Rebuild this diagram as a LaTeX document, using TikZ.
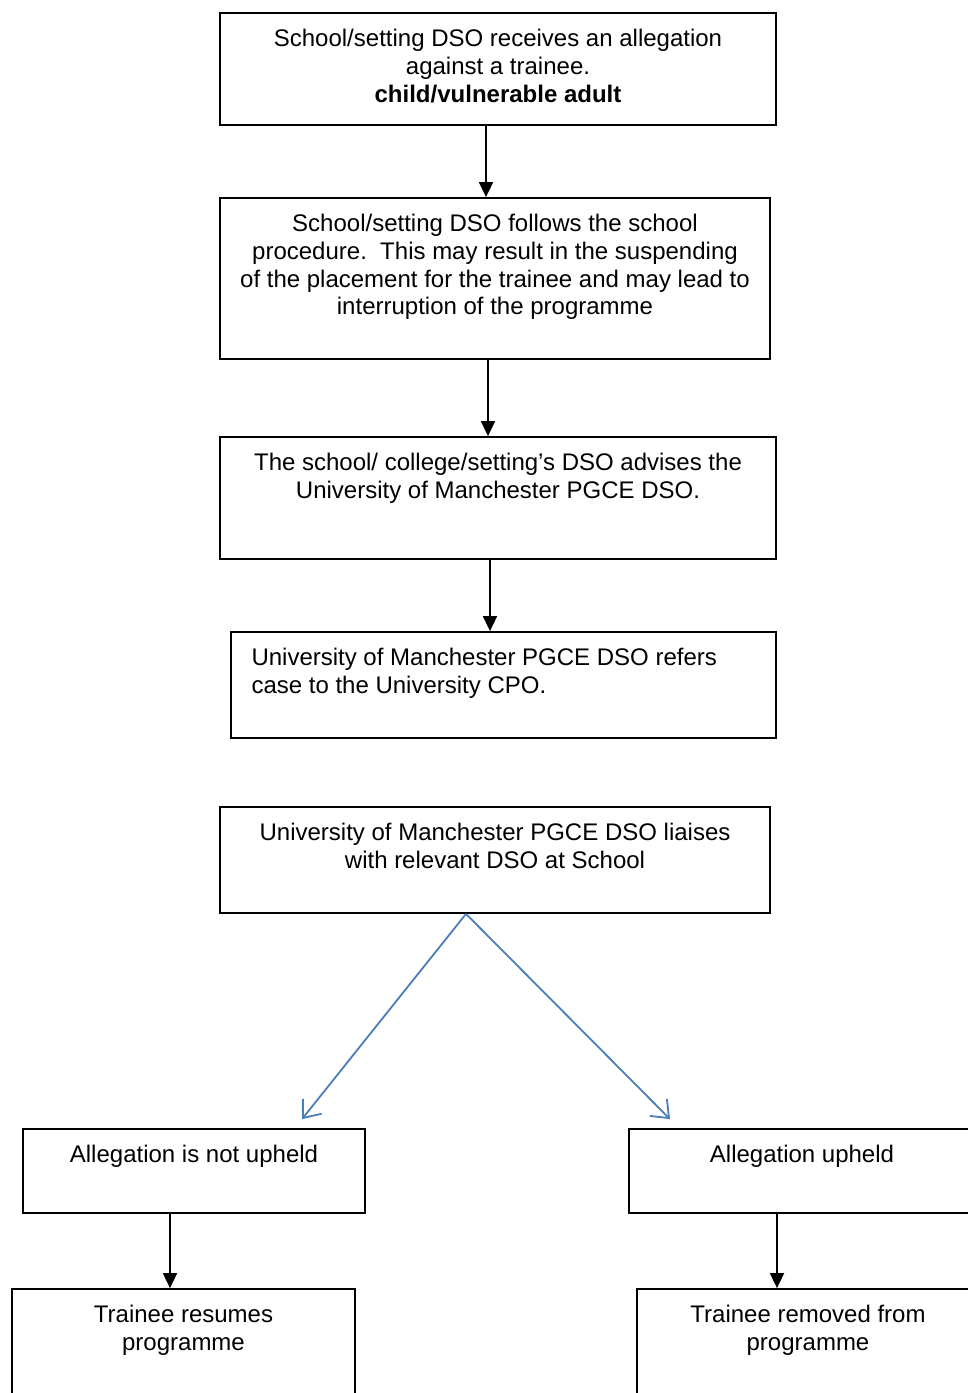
\documentclass[tikz,border=0pt]{standalone}
\usepackage{fontspec}
\setmainfont{Liberation Sans}
\usetikzlibrary{arrows.meta,positioning,fit}
\definecolor{linkblue}{RGB}{74,126,187}
\begin{document}
\begin{tikzpicture}[x=0.5pt, y=-0.5pt, every node/.style={font=\fontsize{12}{13.8}\selectfont},
	>={Triangle[length=7.5pt,width=7pt]},
	box/.style={draw, line width=0.9pt, inner sep=0pt},
	txt/.style={align=center, inner sep=0pt},
	flow/.style={->, line width=0.9pt},
	branch/.style={-{Straight Barb[length=7.5pt,width=12pt]}, linkblue, line width=0.9pt}]
	\useasboundingbox (0,0) rectangle (968,1393);
	\clip (0,0) rectangle (968,1393);
	\node[box, fit={(220,13) (776,125)}] (receive) {};
	\node[txt, below=8.5pt of receive.north] (receivet) {School/setting DSO receives an allegation\\ against a trainee.\\ \textbf{child/vulnerable adult}};
	\node[box, fit={(220,198) (770,359)}] (procedure) {};
	\node[txt, below=8.5pt of procedure.north] (proceduret) {School/setting DSO follows the school\\ procedure.\ \ This may result in the suspending\\ of the placement for the trainee and may lead to\\ interruption of the programme};
	\node[box, fit={(220,437) (776,559)}] (advise) {};
	\node[txt, below=8.5pt of advise.north] (adviset) {The school/ college/setting’s DSO advises the\\ University of Manchester PGCE DSO.};
	\node[box, fit={(231,632) (776,738)}] (refer) {};
	\node[txt, align=left, below right=8.5pt and 10.5pt of refer.north west] (refert) {University of Manchester PGCE DSO refers\\ case to the University CPO.};
	\node[box, fit={(220,807) (770,913)}] (liaise) {};
	\node[txt, below=8.5pt of liaise.north] (liaiset) {University of Manchester PGCE DSO liaises\\ with relevant DSO at School};
	\node[box, fit={(23,1129) (365,1213)}] (notup) {};
	\node[txt, below=8.5pt of notup.north] (notupt) {Allegation is not upheld};
	\node[box, fit={(629,1129) (975,1213)}] (upheld) {};
	\node[txt, below=8.5pt of upheld.north] (upheldt) {Allegation upheld};
	\node[box, fit={(12,1289) (355,1420)}] (resume) {};
	\node[txt, below=8.5pt of resume.north] (resumet) {Trainee resumes\\ programme};
	\node[box, fit={(637,1289) (979,1420)}] (removed) {};
	\node[txt, below=8.5pt of removed.north] (removedt) {Trainee removed from\\ programme};
	% black connectors
	\draw[flow] ([xshift=-6pt]receive.south) -- ([xshift=-6pt]receive.south |- procedure.north);
	\draw[flow] ([xshift=-3.5pt]procedure.south) -- ([xshift=-3.5pt]procedure.south |- advise.north);
	\draw[flow] ([xshift=-4pt]advise.south) -- ([xshift=-4pt]advise.south |- refer.north);
	\draw[flow] ([xshift=-12pt]notup.south) -- ([xshift=-12pt]notup.south |- resume.north);
	\draw[flow] ([xshift=-12.5pt]upheld.south) -- ([xshift=-12.5pt]upheld.south |- removed.north);
	% blue branches
	\draw[branch] ([xshift=-14.5pt]liaise.south) -- ([xshift=54pt,yshift=4.5pt]notup.north);
	\draw[branch] ([xshift=-14.5pt]liaise.south) -- ([xshift=-66pt,yshift=4.5pt]upheld.north);
\end{tikzpicture}
\end{document}
